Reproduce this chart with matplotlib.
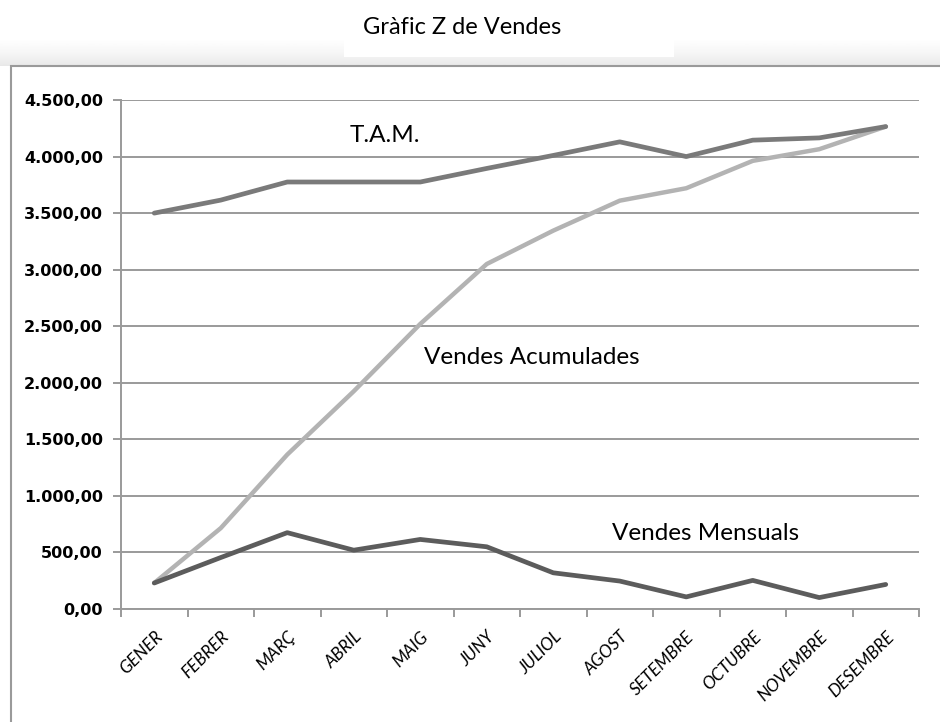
import numpy as np
import matplotlib
matplotlib.use("Agg")
import matplotlib.pyplot as plt
from matplotlib.patches import Rectangle
from matplotlib.ticker import FuncFormatter, FixedLocator

mesos = ['GENER', 'FEBRER', 'MARÇ', 'ABRIL', 'MAIG', 'JUNY', 'JULIOL',
         'AGOST', 'SETEMBRE', 'OCTUBRE', 'NOVEMBRE', 'DESEMBRE']
vendes_mensuals = [230, 455, 675, 520, 615, 550, 320, 247, 107, 253, 101, 217]
vendes_acumulades = [230, 715, 1365, 1925, 2520, 3050, 3345, 3610, 3720, 3962, 4065, 4265]
tam = [3500, 3615, 3775, 3775, 3775, 3895, 4010, 4130, 4000, 4145, 4165, 4265]

W, H = 940, 722
fig = plt.figure(figsize=(W / 100, H / 100), dpi=100)

# background: frame with a soft shadow on top, white box behind the title
bg = fig.add_axes([0, 0, 1, 1])
bg.set_xlim(0, W)
bg.set_ylim(H, 0)
bg.axis('off')
grad = np.linspace(0, 1, 50).reshape(-1, 1) ** 1.5
bg.imshow(1 - 0.09 * grad, cmap='gray', vmin=0, vmax=1, aspect='auto',
          extent=[0, W, 66, 36], interpolation='bilinear')
bg.add_patch(Rectangle((11, 66), W, H, facecolor='white', edgecolor='#9a9a9a', lw=1.5))
bg.add_patch(Rectangle((344, 0), 330, 57, facecolor='white', edgecolor='none'))
bg.text(462, 28, 'Gràfic Z de Vendes', fontsize=17, family='Lato',
        ha='center', va='center')

# plot area
ax = fig.add_axes([121 / W, 1 - 609 / H, (919 - 121) / W, (609 - 100) / H])
ax.patch.set_alpha(0)
x = np.arange(len(mesos))

ax.plot(x, vendes_acumulades, color='#b3b3b3', lw=3.2, solid_capstyle='round', zorder=3)
ax.plot(x, tam, color='#7a7a7a', lw=3.4, solid_capstyle='round', zorder=4)
ax.plot(x, vendes_mensuals, color='#5c5c5c', lw=3.4, solid_capstyle='round', zorder=4)

ax.set_xlim(-0.5, len(mesos) - 0.5)
ax.set_ylim(0, 4500)
ax.set_yticks(np.arange(0, 4501, 500))
ax.yaxis.set_major_formatter(FuncFormatter(
    lambda v, p: f'{v:,.2f}'.replace(',', 'X').replace('.', ',').replace('X', '.')))
ax.grid(axis='y', color='#9a9a9a', lw=1.4, zorder=1)
ax.set_axisbelow(True)

for s in ['top', 'right']:
    ax.spines[s].set_visible(False)
for s in ['left', 'bottom']:
    ax.spines[s].set_color('#9a9a9a')
    ax.spines[s].set_linewidth(1.4)

ax.set_xticks(x)
ax.set_xticklabels(mesos, rotation=45, ha='right', rotation_mode='anchor',
                   fontsize=12.5, family='Lato', style='italic')
ax.xaxis.set_minor_locator(FixedLocator(np.arange(-0.5, len(mesos), 1)))
ax.tick_params(axis='x', which='major', length=0, pad=14)
ax.tick_params(axis='x', which='minor', length=6, color='#9a9a9a', width=1.4)
ax.tick_params(axis='y', length=6, color='#9a9a9a', width=1.4, pad=7)
for lab in ax.get_yticklabels():
    lab.set_fontweight('bold')
    lab.set_fontsize(11.5)

ax.text(3.47, 4190, 'T.A.M.', fontsize=17.5, family='Lato', ha='center', va='center')
ax.text(4.05, 2226, 'Vendes Acumulades', fontsize=17.5, family='Lato', ha='left', va='center')
ax.text(8.29, 671, 'Vendes Mensuals', fontsize=17.5, family='Lato', ha='center', va='center')

fig.savefig('out.png', dpi=100)
